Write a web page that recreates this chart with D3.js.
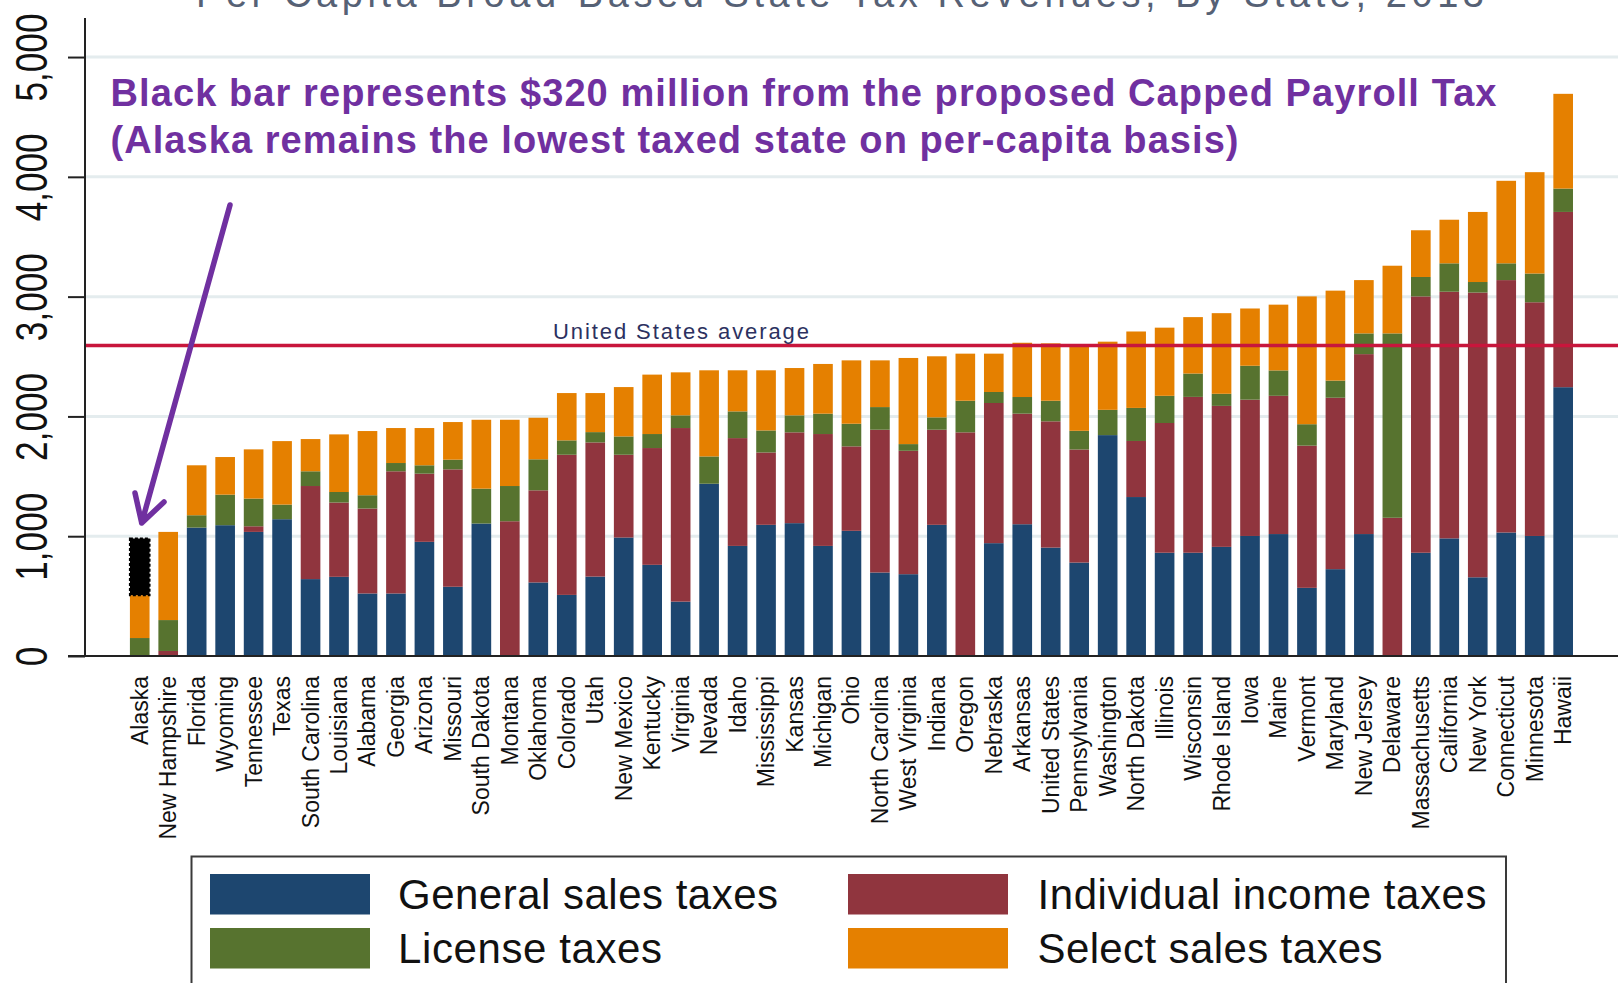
<!DOCTYPE html>
<html>
<head>
<meta charset="utf-8">
<script src="https://cdn.jsdelivr.net/npm/d3@7"></script>
<style>
	body { margin: 0; background: #fff; }
	svg { display: block; font-family: "Liberation Sans", Arial, sans-serif; }
</style>
</head>
<body>
<svg width="1622" height="983"></svg>
<script>
// states, sorted by total per-capita revenue
var states = ["Alaska", "New Hampshire", "Florida", "Wyoming", "Tennessee", "Texas", "South Carolina", "Louisiana",
	"Alabama", "Georgia", "Arizona", "Missouri", "South Dakota", "Montana", "Oklahoma", "Colorado", "Utah",
	"New Mexico", "Kentucky", "Virginia", "Nevada", "Idaho", "Mississippi", "Kansas", "Michigan", "Ohio",
	"North Carolina", "West Virginia", "Indiana", "Oregon", "Nebraska", "Arkansas", "United States",
	"Pennsylvania", "Washington", "North Dakota", "Illinois", "Wisconsin", "Rhode Island", "Iowa", "Maine",
	"Vermont", "Maryland", "New Jersey", "Delaware", "Massachusetts", "California", "New York", "Connecticut",
	"Minnesota", "Hawaii"];

var generalSales = [0, 0, 1072, 1092, 1036, 1142, 642, 661, 522, 522, 953, 578, 1106, 0, 614, 510, 663,
	989, 761, 454, 1438, 919, 1095, 1109, 919, 1045, 697, 683, 1095, 0, 942, 1100, 905,
	780, 1844, 1327, 862, 862, 911, 1002, 1018, 569, 725, 1018, 0, 862, 982, 657, 1031, 1002, 2244];

var incomeTax = [0, 42, 0, 0, 47, 0, 777, 620, 709, 1020, 569, 980, 0, 1125, 769, 1170, 1120,
	691, 975, 1449, 0, 900, 604, 758, 934, 705, 1192, 1030, 794, 1867, 1170, 923, 1054,
	944, 0, 468, 1083, 1301, 1177, 1138, 1154, 1187, 1431, 1502, 1154, 2140, 2059, 2377, 2107, 1951, 1463];

var licenseTax = [150, 258, 103, 255, 231, 122, 123, 88, 111, 69, 70, 81, 291, 294, 259, 120, 86,
	153, 117, 106, 228, 223, 184, 142, 170, 189, 189, 56, 103, 264, 92, 139, 172,
	156, 211, 276, 227, 195, 101, 283, 212, 179, 143, 173, 1539, 162, 237, 88, 140, 240, 195];

var selectSales = [358, 736, 417, 314, 411, 530, 269, 481, 536, 292, 311, 314, 575, 553, 347, 395, 326,
	412, 496, 359, 719, 343, 502, 395, 415, 529, 390, 719, 510, 393, 320, 453, 479,
	722, 569, 638, 569, 471, 673, 478, 549, 1067, 751, 445, 565, 390, 364, 585, 689, 846, 791];

// proposed capped payroll tax, Alaska only
var payrollAlaska = 473;
var usAverage = 2592;

var yTicks = [0, 1000, 2000, 3000, 4000, 5000];
var seriesKeys = ["general", "income", "license", "select"];
var seriesNames = ["General sales taxes", "Individual income taxes", "License taxes", "Select sales taxes"];
var seriesColors = ["#1d466f", "#90353e", "#57732f", "#e58000"];

var svg = d3.select("svg");

// rows for the stack
var rows = states.map(function(s, i) {
	return { state: s, general: generalSales[i], income: incomeTax[i], license: licenseTax[i], select: selectSales[i] };
});
var stacked = d3.stack().keys(seriesKeys)(rows);

var x = d3.scaleBand().domain(states).range([125.5, 1577.4]).paddingInner(0.31).paddingOuter(0.155);
var y = d3.scaleLinear().domain([0, 5326]).range([656, 18]);
var color = d3.scaleOrdinal().domain(seriesKeys).range(seriesColors);

var axisX = 85, rightEdge = 1618;

// title, cut off by the top of the picture
svg.append("text")
	.attr("x", 196).attr("y", 7)
	.attr("textLength", 1288)
	.attr("font-size", 38)
	.attr("fill", "#566175")
	.text("Per Capita Broad-Based State Tax Revenues, By State, 2013");

// gridlines
svg.append("g")
	.selectAll("line")
	.data(yTicks.filter(function(d) { return d > 0; }))
	.enter().append("line")
	.attr("x1", axisX).attr("x2", rightEdge)
	.attr("y1", function(d) { return y(d); })
	.attr("y2", function(d) { return y(d); })
	.attr("stroke", "#e4ecee")
	.attr("stroke-width", 3);

// stacked bars
svg.append("g")
	.selectAll("g")
	.data(stacked)
	.enter().append("g")
	.attr("fill", function(d) { return color(d.key); })
	.selectAll("rect")
	.data(function(d) { return d; })
	.enter().append("rect")
	.attr("x", function(d) { return x(d.data.state); })
	.attr("width", x.bandwidth())
	.attr("y", function(d) { return y(d[1]); })
	.attr("height", function(d) { return y(d[0]) - y(d[1]); });

// black bar on Alaska
var akTop = d3.sum(seriesKeys, function(k) { return rows[0][k]; });
svg.append("rect")
	.attr("x", x("Alaska"))
	.attr("width", x.bandwidth())
	.attr("y", y(akTop + payrollAlaska))
	.attr("height", y(akTop) - y(akTop + payrollAlaska))
	.attr("fill", "#000")
	.attr("stroke", "#000")
	.attr("stroke-width", 2)
	.attr("stroke-dasharray", "3,2");

// US average line
svg.append("line")
	.attr("x1", axisX).attr("x2", rightEdge)
	.attr("y1", y(usAverage)).attr("y2", y(usAverage))
	.attr("stroke", "#c8163c")
	.attr("stroke-width", 3.5);

svg.append("text")
	.attr("x", 553).attr("y", y(usAverage) - 7)
	.attr("textLength", 256)
	.attr("font-size", 22)
	.attr("fill", "#2c3160")
	.text("United States average");

// y axis
var gy = svg.append("g")
	.attr("transform", "translate(" + axisX + ",0)")
	.call(d3.axisLeft(y).tickValues(yTicks).tickSize(17).tickFormat(d3.format(",")));

gy.select(".domain").attr("stroke", "#222").attr("stroke-width", 2).attr("d", "M0," + y(0) + "V18");
gy.selectAll(".tick line").attr("stroke", "#222").attr("stroke-width", 2);
gy.selectAll(".tick text")
	.attr("x", null).attr("dy", null)
	.attr("transform", "translate(-53.5,0) rotate(-90) scale(0.8,1)")
	.attr("text-anchor", "middle")
	.attr("dominant-baseline", "central")
	.attr("font-family", "'Liberation Sans', Arial, sans-serif")
	.attr("font-size", 44)
	.attr("fill", "#111");

// x axis labels
var gx = svg.append("g")
	.attr("transform", "translate(0," + y(0) + ")")
	.call(d3.axisBottom(x).tickSize(0));

gx.select(".domain").remove();
gx.selectAll(".tick text")
	.attr("y", null).attr("dy", null)
	.attr("transform", "translate(0,20) rotate(-90)")
	.attr("text-anchor", "end")
	.attr("dominant-baseline", "central")
	.attr("font-family", "'Liberation Sans', Arial, sans-serif")
	.attr("font-size", 23)
	.attr("fill", "#111");

// baseline
svg.append("line")
	.attr("x1", 68).attr("x2", rightEdge)
	.attr("y1", y(0)).attr("y2", y(0))
	.attr("stroke", "#222")
	.attr("stroke-width", 2);

// annotation
var notes = [
	{ text: "Black bar represents $320 million from the proposed Capped Payroll Tax", y: 106, w: 1386 },
	{ text: "(Alaska remains the lowest taxed state on per-capita basis)", y: 153, w: 1128 }
];
svg.append("g")
	.selectAll("text")
	.data(notes)
	.enter().append("text")
	.attr("x", 110.5)
	.attr("y", function(d) { return d.y; })
	.attr("textLength", function(d) { return d.w; })
	.attr("lengthAdjust", "spacing")
	.attr("font-size", 38)
	.attr("font-weight", "bold")
	.attr("fill", "#7030a0")
	.text(function(d) { return d.text; });

// arrow
svg.append("path")
	.attr("d", "M230,205L141.7,523M135,493L141.7,523L164,502")
	.attr("fill", "none")
	.attr("stroke", "#7030a0")
	.attr("stroke-width", 5.5)
	.attr("stroke-linecap", "round")
	.attr("stroke-linejoin", "round");

// legend
var legend = svg.append("g");
legend.append("rect")
	.attr("x", 191.5).attr("y", 856.5)
	.attr("width", 1314.5).attr("height", 140)
	.attr("fill", "#fff")
	.attr("stroke", "#3a3a3a")
	.attr("stroke-width", 2);

// General, Individual on row 1; License, Select on row 2
var legendPos = [
	{ sx: 210, tx: 398, row: 0, w: 380 },
	{ sx: 848, tx: 1037.5, row: 0, w: 449 },
	{ sx: 210, tx: 398, row: 1, w: 264 },
	{ sx: 848, tx: 1037.5, row: 1, w: 345 }
];
var item = legend.selectAll("g")
	.data(seriesKeys)
	.enter().append("g");

item.append("rect")
	.attr("x", function(d, i) { return legendPos[i].sx; })
	.attr("y", function(d, i) { return 874 + legendPos[i].row * 54; })
	.attr("width", 160).attr("height", 40.5)
	.attr("fill", function(d) { return color(d); });

item.append("text")
	.attr("x", function(d, i) { return legendPos[i].tx; })
	.attr("y", function(d, i) { return 909 + legendPos[i].row * 54; })
	.attr("textLength", function(d, i) { return legendPos[i].w; })
	.attr("font-size", 42)
	.attr("fill", "#111")
	.text(function(d, i) { return seriesNames[i]; });
</script>
</body>
</html>
